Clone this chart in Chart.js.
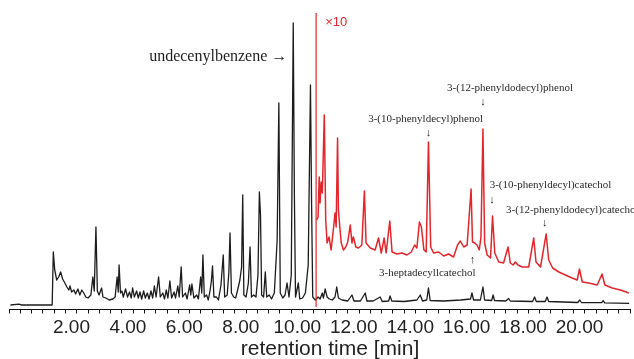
<!DOCTYPE html>
<html>
<head>
<meta charset="utf-8">
<script src="https://cdn.jsdelivr.net/npm/chart.js@4"></script>
<style>
html,body{margin:0;padding:0;background:#fff;}
#wrap{width:634px;height:359px;position:relative;}
</style>
</head>
<body>
<div id="wrap"><canvas id="c"></canvas></div>
<script>
// retention time [min], signal (arbitrary units)
const blackTrace = [
[0.05,0],[0.35,0.8],[0.45,0],[1.53,0],[1.57,53],[1.62,35],[1.69,25],[1.76,28],[1.83,33],[1.90,26],
[1.98,22],[2.05,18],[2.12,15],[2.16,19],[2.22,13],[2.30,15],[2.36,11],[2.44,16],[2.51,10],[2.58,15],
[2.65,12],[2.72,8],[2.80,7],[2.90,10],[2.97,28],[3.02,14],[3.08,78],[3.13,14],[3.19,10],[3.28,17],
[3.33,8],[3.43,7],[3.55,5],[3.68,6],[3.76,8],[3.83,28],[3.87,13],[3.90,40],[3.95,12],[4.00,14],
[4.05,8],[4.13,16],[4.20,8],[4.27,13],[4.33,7],[4.38,17],[4.44,8],[4.52,14],[4.58,7],[4.64,13],
[4.70,6],[4.77,14],[4.83,7],[4.90,12],[4.96,6],[5.03,14],[5.09,7],[5.15,19],[5.21,8],[5.30,28],
[5.36,8],[5.45,12],[5.51,6],[5.57,15],[5.63,7],[5.70,24],[5.76,7],[5.85,13],[5.90,7],[5.98,19],
[6.03,8],[6.10,38],[6.15,8],[6.25,12],[6.31,6],[6.40,20],[6.44,10],[6.48,21],[6.55,7],[6.65,10],
[6.71,6],[6.79,28],[6.83,12],[6.87,50],[6.92,8],[7.00,10],[7.06,5],[7.12,14],[7.17,24],[7.21,39],
[7.26,8],[7.35,8],[7.42,5],[7.51,20],[7.55,35],[7.59,50],[7.64,8],[7.73,10],[7.79,33],[7.83,72],
[7.88,12],[7.96,8],[8.03,7],[8.10,15],[8.18,25],[8.24,38],[8.28,110],[8.32,10],[8.40,8],[8.48,22],
[8.54,58],[8.59,8],[8.67,10],[8.75,8],[8.82,30],[8.87,113],[8.91,90],[8.95,10],[9.02,8],[9.08,33],
[9.13,8],[9.22,10],[9.30,6],[9.40,12],[9.50,65],[9.56,202],[9.61,12],[9.70,7],[9.78,10],[9.85,22],
[9.92,8],[10.00,30],[10.07,282],[10.11,110],[10.15,8],[10.25,22],[10.30,6],[10.40,7],[10.50,12],[10.60,40],
[10.68,220],[10.72,100],[10.76,8],[10.85,5],[10.95,8],[11.02,6],[11.10,12],[11.14,7],[11.20,16],[11.27,8],
[11.35,6],[11.45,5],[11.55,8],[11.61,18],[11.67,7],[11.80,5],[12.00,4],[12.15,10],[12.22,4],[12.45,4],
[12.62,12],[12.68,4],[12.90,4],[13.15,8],[13.22,3.5],[13.45,4],[13.50,9],[13.56,4],[14.00,3.5],[14.45,5],
[14.57,10],[14.65,4],[14.80,5],[14.86,17],[14.92,4.5],[15.40,4],[16.00,5],[16.35,6],[16.40,12],[16.46,5],
[16.70,5],[16.79,18],[16.85,5],[17.10,4.5],[17.15,10],[17.20,4.5],[17.60,4],[17.70,6.5],[17.76,4],[18.55,3.5],
[18.62,8],[18.68,3.5],[19.00,3.5],[19.06,8],[19.12,3.5],[20.15,2.5],[20.22,5],[20.28,2.5],[21.00,2.3],[21.05,4.5],
[21.10,2.2],[21.97,1.7]
];
// same chromatogram magnified x10 after the marker
const redTrace = [
[10.90,85],[10.95,88],[10.99,128],[11.02,102],[11.06,123],[11.10,112],[11.17,190],[11.22,85],[11.27,62],[11.34,68],
[11.41,55],[11.49,75],[11.55,92],[11.59,78],[11.64,167],[11.67,95],[11.72,78],[11.77,62],[11.85,55],[11.93,58],
[12.00,63],[12.09,80],[12.15,62],[12.20,68],[12.29,58],[12.38,57],[12.50,60],[12.59,114],[12.65,62],[12.80,57],
[12.97,55],[13.09,67],[13.19,52],[13.29,67],[13.36,52],[13.49,84],[13.57,53],[13.74,51],[13.92,52],[14.10,50],
[14.25,53],[14.37,60],[14.45,57],[14.54,83],[14.61,78],[14.70,55],[14.78,53],[14.86,163],[14.94,58],[15.04,52],
[15.22,53],[15.40,49],[15.57,51],[15.75,48],[15.89,60],[15.99,64],[16.11,58],[16.23,60],[16.37,116],[16.42,63],
[16.50,62],[16.58,60],[16.66,55],[16.72,68],[16.79,176],[16.85,62],[16.94,50],[17.06,47],[17.13,89],[17.21,52],
[17.35,43],[17.52,42],[17.68,58],[17.76,42],[17.86,40],[17.94,43],[18.03,40],[18.18,38],[18.41,38],[18.59,67],
[18.67,43],[18.83,38],[19.03,71],[19.12,45],[19.26,37],[19.48,33],[19.71,30],[19.95,27],[20.13,25],[20.21,36],
[20.31,23],[20.54,22],[20.84,20],[21.01,31],[21.11,20],[21.37,17],[21.66,15],[21.96,12]
];
const markerTime = 10.88;
const markerSpan = [-2, 292];
const tickValues = [2,4,6,8,10,12,14,16,18,20];
const xRange = [0, 22];
const yRange = [-4.5, 293];

// annotation texts with anchor [time, signal]
const notes = [
  {text:'undecenylbenzene \u2192', at:[9.86,248], align:'right', big:true},
  {text:'\u00d710', at:[11.2,283], align:'left', red:true},
  {text:'3-(12-phenyldodecyl)phenol', at:[17.75,216.5], align:'center'},
  {text:'\u2193', at:[16.79,203], align:'center'},
  {text:'3-(10-phenyldecyl)phenol', at:[14.76,186], align:'center'},
  {text:'\u2193', at:[14.86,171.5], align:'center'},
  {text:'3-(10-phenyldecyl)catechol', at:[17.03,120], align:'left'},
  {text:'\u2193', at:[17.11,105], align:'center'},
  {text:'3-(12-phenyldodecyl)catechol', at:[17.61,95], align:'left'},
  {text:'\u2193', at:[18.98,81.5], align:'center'},
  {text:'3-heptadecyllcatechol', at:[14.82,31.5], align:'center'},
  {text:'\u2191', at:[16.42,45], align:'center'}
];

const toXY = arr => arr.map(p => ({x:p[0], y:p[1]}));

const notePlugin = {
  id:'notes',
  afterDatasetsDraw(chart){
    const ctx = chart.ctx, xs = chart.scales.x, ys = chart.scales.y;
    ctx.save();
    notes.forEach(n => {
      const px = xs.getPixelForValue(n.at[0]);
      const py = ys.getPixelForValue(n.at[1]);
      if (n.red) {
        ctx.font = '13px "Liberation Sans", Arial, sans-serif';
        ctx.fillStyle = '#e4252b';
      } else if (n.big) {
        ctx.font = '16px "Liberation Serif", "Times New Roman", serif';
        ctx.fillStyle = '#1e1e1e';
      } else {
        ctx.font = '11px "Liberation Serif", "Times New Roman", serif';
        ctx.fillStyle = '#2a2a2a';
      }
      ctx.textAlign = n.align;
      ctx.textBaseline = 'middle';
      ctx.fillText(n.text, px, py);
    });
    ctx.restore();
  }
};

new Chart(document.getElementById('c'), {
  type:'line',
  data:{
    datasets:[
      {label:'x10', data:toXY(redTrace), borderColor:'#e4252b', borderWidth:1.5, pointRadius:0, tension:0, borderJoinStyle:'round'},
      {label:'marker', data:[{x:markerTime,y:markerSpan[0]},{x:markerTime,y:markerSpan[1]}], borderColor:'#e4252b', borderWidth:1.2, pointRadius:0},
      {label:'TIC', data:toXY(blackTrace), borderColor:'#1c1c1c', borderWidth:1.3, pointRadius:0, tension:0, borderJoinStyle:'round'}
    ]
  },
  options:{
    responsive:true, maintainAspectRatio:false, animation:false,
    layout:{padding:{left:9, right:4, top:12, bottom:-3}},
    plugins:{legend:{display:false}, tooltip:{enabled:false}},
    scales:{
      x:{
        type:'linear', min:xRange[0], max:xRange[1],
        afterFit: s => { s.height = 52.5; },
        border:{display:true, color:'#111', width:1},
        grid:{display:true, drawOnChartArea:false, drawTicks:true, tickLength:4, color:'#111', lineWidth:1},
        ticks:{
          stepSize:0.4, autoSkip:false, maxRotation:0, minRotation:0, maxTicksLimit:200,
          padding:3, labelOffset:6, color:'#222',
          font:{family:'"Liberation Sans", Arial, sans-serif', size:19},
          callback: v => { const m = tickValues.find(t => Math.abs(t - v) < 1e-6); return m === undefined ? '' : m.toFixed(2); }
        },
        title:{display:true, text:'\u2002\u2002retention time [min]', color:'#222',
          font:{family:'"Liberation Sans", Arial, sans-serif', size:21}, padding:{top:0,bottom:0}}
      },
      y:{type:'linear', display:false, min:yRange[0], max:yRange[1]}
    }
  },
  plugins:[notePlugin]
});
</script>
</body>
</html>
